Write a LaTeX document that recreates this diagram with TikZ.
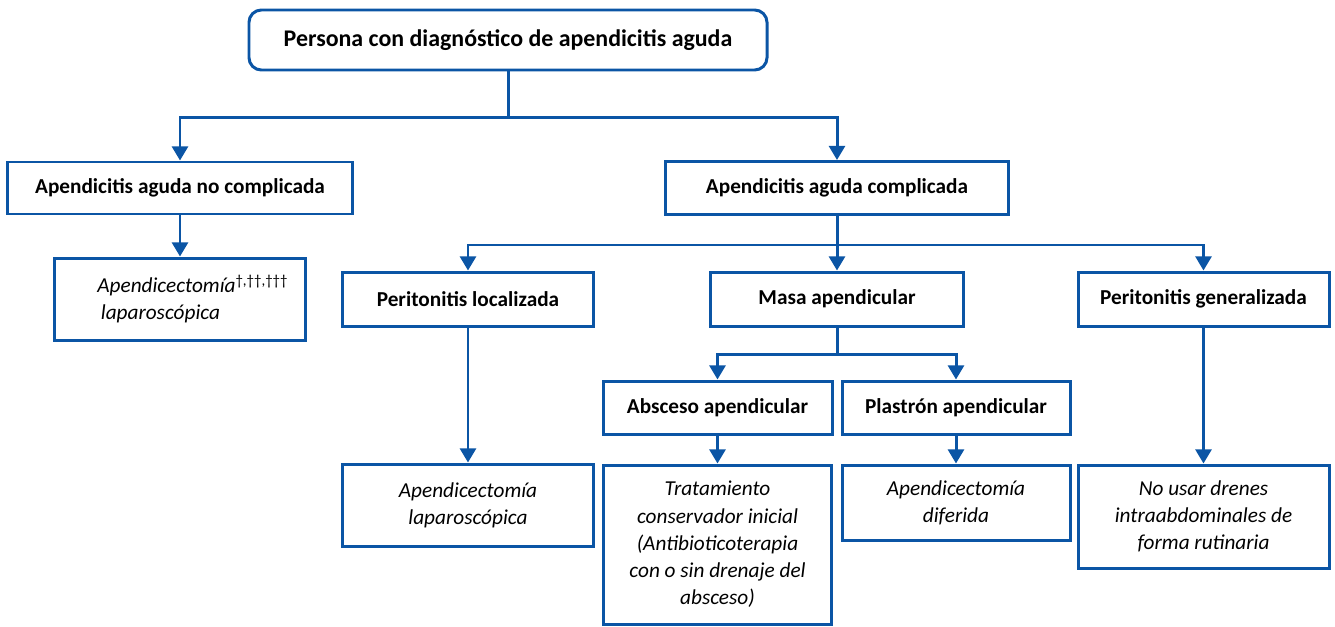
\documentclass[tikz,border=0pt]{standalone}
\usepackage{fontspec}
\setmainfont{Carlito}
\usepackage{tikz}
\usetikzlibrary{arrows.meta}
\usetikzlibrary{positioning}
\definecolor{flowblue}{HTML}{0B55A5}

\tikzset{
  box/.style={draw=flowblue, line width=1.7pt, rectangle, inner sep=0pt,
    font=\fontsize{12.1}{15.5}\selectfont\bfseries, align=center},
  note/.style={draw=flowblue, line width=1.7pt, rectangle, inner sep=0pt,
    font=\fontsize{12.1}{15.5}\selectfont\itshape, align=center},
  arr/.style={draw=flowblue, line width=1.7pt, -{Triangle[width=9pt,length=8pt]}},
  ln/.style={draw=flowblue, line width=1.7pt}
}

\begin{document}
\begin{tikzpicture}[x=0.02cm, y=-0.02cm]
       \useasboundingbox (0,0) rectangle (1335,626);

       % first level
       \node[box, rounded corners=7pt, minimum width=518*0.02cm, minimum height=60*0.02cm, font=\fontsize{13.6}{15.5}\selectfont\bfseries] (persona) at (508, 40) {Persona con diagn\'ostico de apendicitis aguda};

       \node[box, minimum width=345*0.02cm, minimum height=52*0.02cm] (nocomp) at (180, 188) {Apendicitis aguda no complicada};
       \node[box, minimum width=343*0.02cm, minimum height=53*0.02cm] (comp)   at (837, 188) {Apendicitis aguda complicada};

       \node[note, minimum width=251*0.02cm, minimum height=82*0.02cm] (lapA) at (180, 299) {};
       \node[font=\fontsize{12.1}{15.5}\selectfont\itshape, align=left, anchor=west, inner sep=0pt] (lapAtxt) at (97, 299)
            {Apendicectom\'ia\textsuperscript{\upshape †,††,†††}\\\,laparosc\'opica};

       % second level
       \node[box, minimum width=251*0.02cm, minimum height=54*0.02cm] (ploc) at (468, 299)  {Peritonitis localizada};
       \node[box, minimum width=253*0.02cm, minimum height=54*0.02cm] (masa) at (837, 299)  {Masa apendicular};
       \node[box, minimum width=251*0.02cm, minimum height=54*0.02cm] (pgen) at (1203.5, 299) {Peritonitis generalizada};

       \node[box, minimum width=229*0.02cm, minimum height=53*0.02cm] (absc) at (717.5, 407.5) {Absceso apendicular};
       \node[box, minimum width=228*0.02cm, minimum height=53*0.02cm] (plas) at (956, 407.5)   {Plastr\'on apendicular};

       \node[note, minimum width=251*0.02cm, minimum height=82*0.02cm]  (lapB)   at (468, 505)  {Apendicectom\'ia\\laparosc\'opica};
       \node[note, minimum width=228*0.02cm, minimum height=159*0.02cm] (trat)   at (717.5, 544.5)  {Tratamiento\\conservador inicial\\(Antibioticoterapia\\con o sin drenaje del\\absceso)};
       \node[note, minimum width=228*0.02cm, minimum height=75*0.02cm]  (dif)    at (956, 502.5)  {Apendicectom\'ia\\diferida};
       \node[note, minimum width=251*0.02cm, minimum height=103*0.02cm] (nodren) at (1203.5, 516.5) {No usar drenes\\intraabdominales de\\forma rutinaria};

       % junctions
       \path (persona.south) ++(0,46) coordinate (j1);
       \path (comp.south) ++(0,29) coordinate (j2);
       \path (masa.south) ++(0,27) coordinate (j3);

       % connectors
       \draw[ln]  (persona.south) -- (j1);
       \draw[arr] (j1) -| (nocomp.north);
       \draw[arr] (j1) -| (comp.north);
       \draw[arr] (nocomp.south) -- (lapA.north);

       \draw[ln]  (comp.south) -- (j2);
       \draw[arr] (j2) -| (ploc.north);
       \draw[arr] (j2) -- (masa.north);
       \draw[arr] (j2) -| (pgen.north);

       \draw[arr] (ploc.south) -- (lapB.north);
       \draw[arr] (pgen.south) -- (nodren.north);

       \draw[ln]  (masa.south) -- (j3);
       \draw[arr] (j3) -| (absc.north);
       \draw[arr] (j3) -| (plas.north);
       \draw[arr] (absc.south) -- (trat.north);
       \draw[arr] (plas.south) -- (dif.north);
    \end{tikzpicture}
\end{document}
